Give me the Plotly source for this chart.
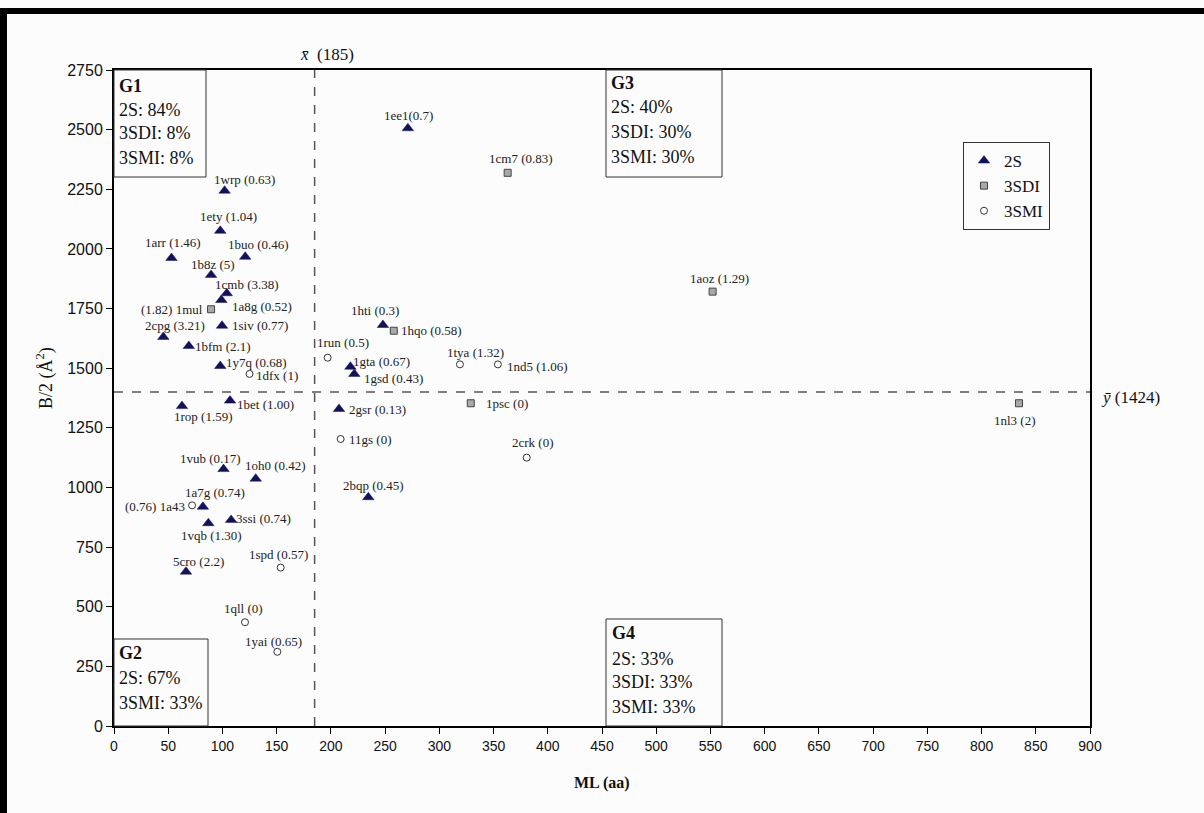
import plotly.graph_objects as go

# ---------------- data ----------------
s2_labels = ["1ee1(0.7)", "1wrp (0.63)", "1ety (1.04)", "1arr (1.46)", "1buo (0.46)",
             "1b8z (5)", "1cmb (3.38)", "1a8g (0.52)", "1siv (0.77)", "2cpg (3.21)",
             "1bfm (2.1)", "1y7q (0.68)", "1hti (0.3)", "1gta (0.67)", "1gsd (0.43)",
             "1bet (1.00)", "1rop (1.59)", "2gsr (0.13)", "1vub (0.17)", "1oh0 (0.42)",
             "1a7g (0.74)", "3ssi (0.74)", "1vqb (1.30)", "2bqp (0.45)", "5cro (2.2)"]
s2_x = [271, 102, 98, 53, 121, 89.5, 104, 99, 99.6, 45.5, 69, 98, 248, 218, 221.6,
        107, 62.7, 207.5, 101, 130.7, 82, 108, 87, 234.5, 66.4]
s2_y = [2506, 2244, 2076, 1962, 1967, 1891, 1814, 1786, 1678, 1631, 1593, 1509, 1681,
        1506, 1476, 1364, 1341, 1329, 1077, 1037, 919, 864, 850, 959, 647]

sdi_labels = ["1cm7 (0.83)", "1aoz (1.29)", "1hqo (0.58)", "(1.82) 1mul", "1psc (0)", "1nl3 (2)"]
sdi_x = [363, 552, 258, 89.5, 329, 834.5]
sdi_y = [2319, 1821, 1657, 1747, 1353, 1353]

smi_labels = ["1run (0.5)", "1dfx (1)", "1tya (1.32)", "1nd5 (1.06)", "11gs (0)",
              "2crk (0)", "(0.76) 1a43", "1spd (0.57)", "1qll (0)", "1yai (0.65)"]
smi_x = [197, 125, 319, 354, 209, 380.6, 72, 153.7, 120.8, 150.6]
smi_y = [1544, 1476, 1516, 1516, 1203, 1125, 925, 664, 435, 311]

x_mean = 185
y_mean_text = 1424
y_mean_line = 1400   # where the dashed line sits in the picture

groups = {
    "G1": ["2S: 84%", "3SDI: 8%", "3SMI: 8%"],
    "G2": ["2S: 67%", "3SMI: 33%"],
    "G3": ["2S: 40%", "3SDI: 30%", "3SMI: 30%"],
    "G4": ["2S: 33%", "3SDI: 33%", "3SMI: 33%"],
}

x_ticks = list(range(0, 901, 50))
y_ticks = list(range(0, 2751, 250))

# ---------------- style ----------------
SERIF = "Liberation Serif, Times New Roman, serif"
SANS = "Liberation Sans, Arial, sans-serif"

FIG_W, FIG_H = 1204, 813
L, R, T, B = 114, 1090, 70, 726   # plot area in page pixels
W_PLOT, H_PLOT = R - L, B - T


def px(x):
    return (x - L) / W_PLOT


def py(y):
    return (B - y) / H_PLOT


# label placement (anchor, dx px, dy px downward)
label_pos = {
    "1ee1(0.7)": ("center", 1, -13), "1wrp (0.63)": ("center", 20, -11),
    "1ety (1.04)": ("center", 8, -14), "1arr (1.46)": ("center", 2, -15),
    "1buo (0.46)": ("center", 13, -12), "1b8z (5)": ("center", 2, -10),
    "1cmb (3.38)": ("center", 20, -9), "1a8g (0.52)": ("left", 9, 7),
    "1siv (0.77)": ("left", 8, 0), "2cpg (3.21)": ("center", 12, -11),
    "1bfm (2.1)": ("left", 4, 0), "1y7q (0.68)": ("left", 4, -4),
    "1hti (0.3)": ("center", -8, -15), "1gta (0.67)": ("left", 1, -5),
    "1gsd (0.43)": ("left", 8, 5), "1bet (1.00)": ("left", 5, 4),
    "1rop (1.59)": ("center", 22, 10), "2gsr (0.13)": ("left", 8, 1),
    "1vub (0.17)": ("center", -13, -11), "1oh0 (0.42)": ("center", 20, -13),
    "1a7g (0.74)": ("center", 12, -14), "3ssi (0.74)": ("left", 3, -1),
    "1vqb (1.30)": ("center", 3, 12), "2bqp (0.45)": ("center", 5, -12),
    "5cro (2.2)": ("center", 12, -10),
    "1cm7 (0.83)": ("center", 13, -14), "1aoz (1.29)": ("center", 7, -13),
    "1hqo (0.58)": ("left", 5, 0), "(1.82) 1mul": ("right", -6, 0),
    "1psc (0)": ("left", 13, 0), "1nl3 (2)": ("center", -4, 17),
    "1run (0.5)": ("center", 15, -15), "1dfx (1)": ("left", 4, 2),
    "1tya (1.32)": ("center", 16, -12), "1nd5 (1.06)": ("left", 7, 2),
    "11gs (0)": ("left", 6, 0), "2crk (0)": ("center", 6, -15),
    "(0.76) 1a43": ("right", -5, 1), "1spd (0.57)": ("center", -2, -13),
    "1qll (0)": ("center", -2, -14), "1yai (0.65)": ("center", -4, -10),
}

fig = go.Figure()
fig.add_trace(go.Scatter(
    x=s2_x, y=s2_y, mode="markers", name="2S",
    marker=dict(symbol="triangle-up", size=10, color="#12125a",
                line=dict(width=0.5, color="#12125a"))))
fig.add_trace(go.Scatter(
    x=sdi_x, y=sdi_y, mode="markers", name="3SDI",
    marker=dict(symbol="square", size=7, color="#a9a9a9",
                line=dict(width=1, color="#444444"))))
fig.add_trace(go.Scatter(
    x=smi_x, y=smi_y, mode="markers", name="3SMI",
    marker=dict(symbol="circle", size=7, color="white",
                line=dict(width=1, color="#333333"))))

annotations = []
for labels, xs, ys in [(s2_labels, s2_x, s2_y), (sdi_labels, sdi_x, sdi_y),
                       (smi_labels, smi_x, smi_y)]:
    for lab, xv, yv in zip(labels, xs, ys):
        anc, dx, dy = label_pos[lab]
        annotations.append(dict(
            x=xv, y=yv, xref="x", yref="y", text=lab, showarrow=False,
            xanchor=anc, yanchor="middle", xshift=dx, yshift=-dy,
            font=dict(family=SERIF, size=13, color="#222222")))

# group boxes (pixel extents) and text line positions
box_px = {
    "G1": (114, 70, 206, 177),
    "G2": (114, 639, 208, 726),
    "G3": (606, 70, 722, 177),
    "G4": (606, 619, 722, 726),
}
text_px = {
    "G1": (117, [86, 110, 133, 158]),
    "G2": (117, [653, 678, 703]),
    "G3": (609, [83, 107, 132, 157]),
    "G4": (610, [633, 659, 682, 707]),
}

shapes = []
for g, (x0, y0, x1, y1) in box_px.items():
    shapes.append(dict(type="rect", xref="paper", yref="paper",
                       x0=px(x0), x1=px(x1), y0=py(y1), y1=py(y0),
                       line=dict(color="#333333", width=1), fillcolor="rgba(0,0,0,0)",
                       layer="above"))
    tx, tys = text_px[g]
    lines = ["<b>" + g + "</b>"] + groups[g]
    for line, ty in zip(lines, tys):
        annotations.append(dict(
            x=px(tx), y=py(ty), xref="paper", yref="paper", text=line,
            showarrow=False, xanchor="left", yanchor="middle",
            font=dict(family=SERIF, size=18, color="#111111")))

# mean lines
shapes.append(dict(type="line", xref="x", yref="paper", x0=x_mean, x1=x_mean, y0=0, y1=1,
                   line=dict(color="#555555", width=1.5, dash="dash")))
shapes.append(dict(type="line", xref="paper", yref="y", x0=0, x1=1,
                   y0=y_mean_line, y1=y_mean_line,
                   line=dict(color="#555555", width=1.5, dash="dash")))

annotations.append(dict(
    x=x_mean, y=py(55), xref="x", yref="paper",
    text="<i>x\u0304</i>  (" + str(x_mean) + ")", showarrow=False,
    xanchor="left", yanchor="middle", xshift=-17,
    font=dict(family=SERIF, size=17, color="#111111")))
annotations.append(dict(
    x=1, y=y_mean_line, xref="paper", yref="y",
    text="<i>y\u0304</i> (" + str(y_mean_text) + ")", showarrow=False,
    xanchor="left", yanchor="middle", xshift=9, yshift=-5,
    font=dict(family=SERIF, size=17, color="#111111")))

# axis titles
annotations.append(dict(
    x=0.5, y=py(783), xref="paper", yref="paper", text="<b>ML (aa)</b>",
    showarrow=False, xanchor="center", yanchor="middle",
    font=dict(family=SERIF, size=16, color="#111111")))
annotations.append(dict(
    x=px(45), y=py(378), xref="paper", yref="paper", text="B/2 (Å<sup>2</sup>)",
    showarrow=False, xanchor="center", yanchor="middle", textangle=-90,
    font=dict(family=SERIF, size=18, color="#111111")))

# outer black frame (top and left)
shapes.append(dict(type="rect", xref="paper", yref="paper",
                   x0=px(0), x1=px(1204), y0=py(14), y1=py(8),
                   line=dict(width=0), fillcolor="black", layer="above"))
shapes.append(dict(type="rect", xref="paper", yref="paper",
                   x0=px(0), x1=px(7), y0=py(813), y1=py(8),
                   line=dict(width=0), fillcolor="black", layer="above"))

fig.update_layout(
    width=FIG_W, height=FIG_H,
    margin=dict(l=L, r=FIG_W - R, t=T, b=FIG_H - B),
    paper_bgcolor="#fcfcfc", plot_bgcolor="#fcfcfc",
    shapes=shapes, annotations=annotations,
    showlegend=True,
    legend=dict(x=px(1050), y=py(142), xanchor="right", yanchor="top",
                bgcolor="#fcfcfc", bordercolor="#333333", borderwidth=1,
                font=dict(family=SERIF, size=17, color="#111111"),
                itemwidth=30, tracegroupgap=0),
)
fig.update_xaxes(range=[0, 900], tickvals=x_ticks, ticktext=[str(v) for v in x_ticks],
                 showgrid=False, zeroline=False, showline=True, linecolor="black",
                 linewidth=2, mirror=True, ticks="outside", ticklen=6, tickcolor="black",
                 tickfont=dict(family=SANS, size=14, color="#111111"))
fig.update_yaxes(range=[0, 2750], tickvals=y_ticks, ticktext=[str(v) for v in y_ticks],
                 showgrid=False, zeroline=False, showline=True, linecolor="black",
                 linewidth=2, mirror=True, ticks="outside", ticklen=6, tickcolor="black",
                 tickfont=dict(family=SANS, size=16, color="#111111"))

fig.write_html("out.html",
               config={"displayModeBar": False},
               post_script="document.body.style.margin='0px';"
                           "document.body.style.background='#fcfcfc';")
